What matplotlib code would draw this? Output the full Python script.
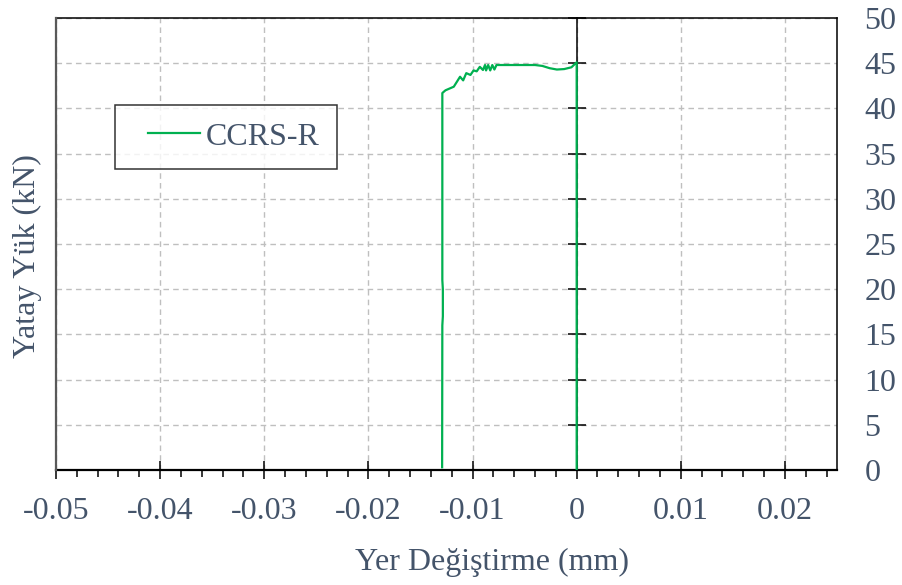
import matplotlib
matplotlib.use("Agg")
import matplotlib.pyplot as plt
from matplotlib.legend_handler import HandlerLine2D
from matplotlib.ticker import MultipleLocator, FixedLocator

# Load-displacement record (displacement in mm, load in kN)
disp_mm = [0.0, 0.0, -0.0005, -0.0012, -0.0019, -0.0026, -0.0033, -0.0040,
           -0.0077, -0.0079, -0.0081, -0.0083, -0.0085, -0.0087, -0.0088,
           -0.0090, -0.0093, -0.0096, -0.0099, -0.0102, -0.0106, -0.0109,
           -0.0112, -0.0115, -0.0118, -0.0122, -0.0126, -0.0129, -0.0129,
           -0.01285, -0.01285, -0.0129, -0.01292]
load_kn = [0.0, 45.1, 44.55, 44.35, 44.3, 44.45, 44.7, 44.8,
           44.8, 44.3, 44.8, 44.2, 44.8, 44.2, 44.8,
           44.25, 44.6, 44.1, 44.2, 43.7, 43.9, 43.1,
           43.5, 42.95, 42.4, 42.2, 42.0, 41.7, 21.0,
           20.0, 17.0, 16.0, 0.3]
series_name = "CCRS-R"

x_ticks = [-0.05, -0.04, -0.03, -0.02, -0.01, 0.0, 0.01, 0.02]
x_tick_labels = ["-0.05", "-0.04", "-0.03", "-0.02", "-0.01", "0", "0.01", "0.02"]
y_ticks = [0, 5, 10, 15, 20, 25, 30, 35, 40, 45, 50]
y_tick_labels = [str(v) for v in y_ticks]

TEXT = "#44546A"
GREEN = "#00B050"
FS = 23

plt.rcParams["font.family"] = ["Liberation Serif", "DejaVu Serif"]


class ShiftedLineHandler(HandlerLine2D):
    """Legend line that starts a little to the right of the handle box."""
    def __init__(self, lead, **kw):
        super().__init__(**kw)
        self.lead = lead

    def create_artists(self, legend, orig_handle, xdescent, ydescent,
                       width, height, fontsize, trans):
        return super().create_artists(legend, orig_handle, xdescent - self.lead,
                                      ydescent, width - self.lead, height,
                                      fontsize, trans)


fig = plt.figure(figsize=(9.02, 5.85), dpi=100)
W, H = 902, 585
ax = fig.add_axes([56 / W, 1 - 470 / H, 781 / W, 452 / H])

ax.set_xlim(-0.05, 0.025)
ax.set_ylim(0, 50)

# grid
ax.set_axisbelow(True)
ax.grid(True, which="major", color="#BFBFBF", linestyle=(0, (4, 3)), linewidth=1.0)

# y axis crosses at x = 0, labels sit outside the right edge
ax.spines["left"].set_position(("data", 0))
ax.spines["left"].set_color("black")
ax.spines["left"].set_linewidth(1.1)
ax.spines["right"].set_color("black")
ax.spines["right"].set_linewidth(1.1)
ax.spines["top"].set_color("black")
ax.spines["top"].set_linewidth(1.1)
ax.spines["bottom"].set_color("black")
ax.spines["bottom"].set_linewidth(1.6)
ax.axvline(-0.05, color="#595959", linewidth=1.6, zorder=2.6, clip_on=False)

ax.xaxis.set_major_locator(FixedLocator(x_ticks))
ax.set_xticklabels(x_tick_labels)
ax.xaxis.set_minor_locator(MultipleLocator(0.002))
ax.yaxis.set_major_locator(FixedLocator(y_ticks))
ax.set_yticklabels(y_tick_labels)

ax.tick_params(axis="x", which="major", direction="inout", length=13.5, width=1.1,
               color="black", labelsize=FS, labelcolor=TEXT, pad=13)
ax.tick_params(axis="x", which="minor", direction="out", length=5, width=1.1,
               color="black")
ax.tick_params(axis="y", which="major", direction="inout", length=13.5, width=1.1,
               color="black", left=True, right=False, labelleft=False,
               labelright=True, labelsize=FS, labelcolor=TEXT, pad=13)
for lbl in ax.get_yticklabels():
    lbl.set_horizontalalignment("left")

ax.plot(disp_mm, load_kn, color=GREEN, linewidth=1.6, zorder=3, label=series_name)

ax.set_xlabel("Yer Değiştirme (mm)", fontsize=FS, color=TEXT)
ax.set_ylabel("Yatay Yük (kN)", fontsize=FS, color=TEXT)
ax.xaxis.set_label_coords((492 - 56) / 781, -(562 - 470) / 452)
ax.yaxis.set_label_coords(-(56 - 27) / 781, (470 - 256) / 452)
ax.xaxis.label.set_verticalalignment("center")
ax.yaxis.label.set_verticalalignment("center")

lead = 11.3
leg = ax.legend(loc="upper left", bbox_to_anchor=(115 / W, 1 - 105 / H),
                bbox_transform=fig.transFigure, borderaxespad=0,
                fontsize=FS, frameon=True, fancybox=False, borderpad=0.54,
                handlelength=2.12, handletextpad=0.17,
                handler_map={matplotlib.lines.Line2D: ShiftedLineHandler(lead)})
leg.get_frame().set_edgecolor("black")
leg.get_frame().set_linewidth(1.1)
for t in leg.get_texts():
    t.set_color(TEXT)

fig.savefig("out.png", dpi=100)
